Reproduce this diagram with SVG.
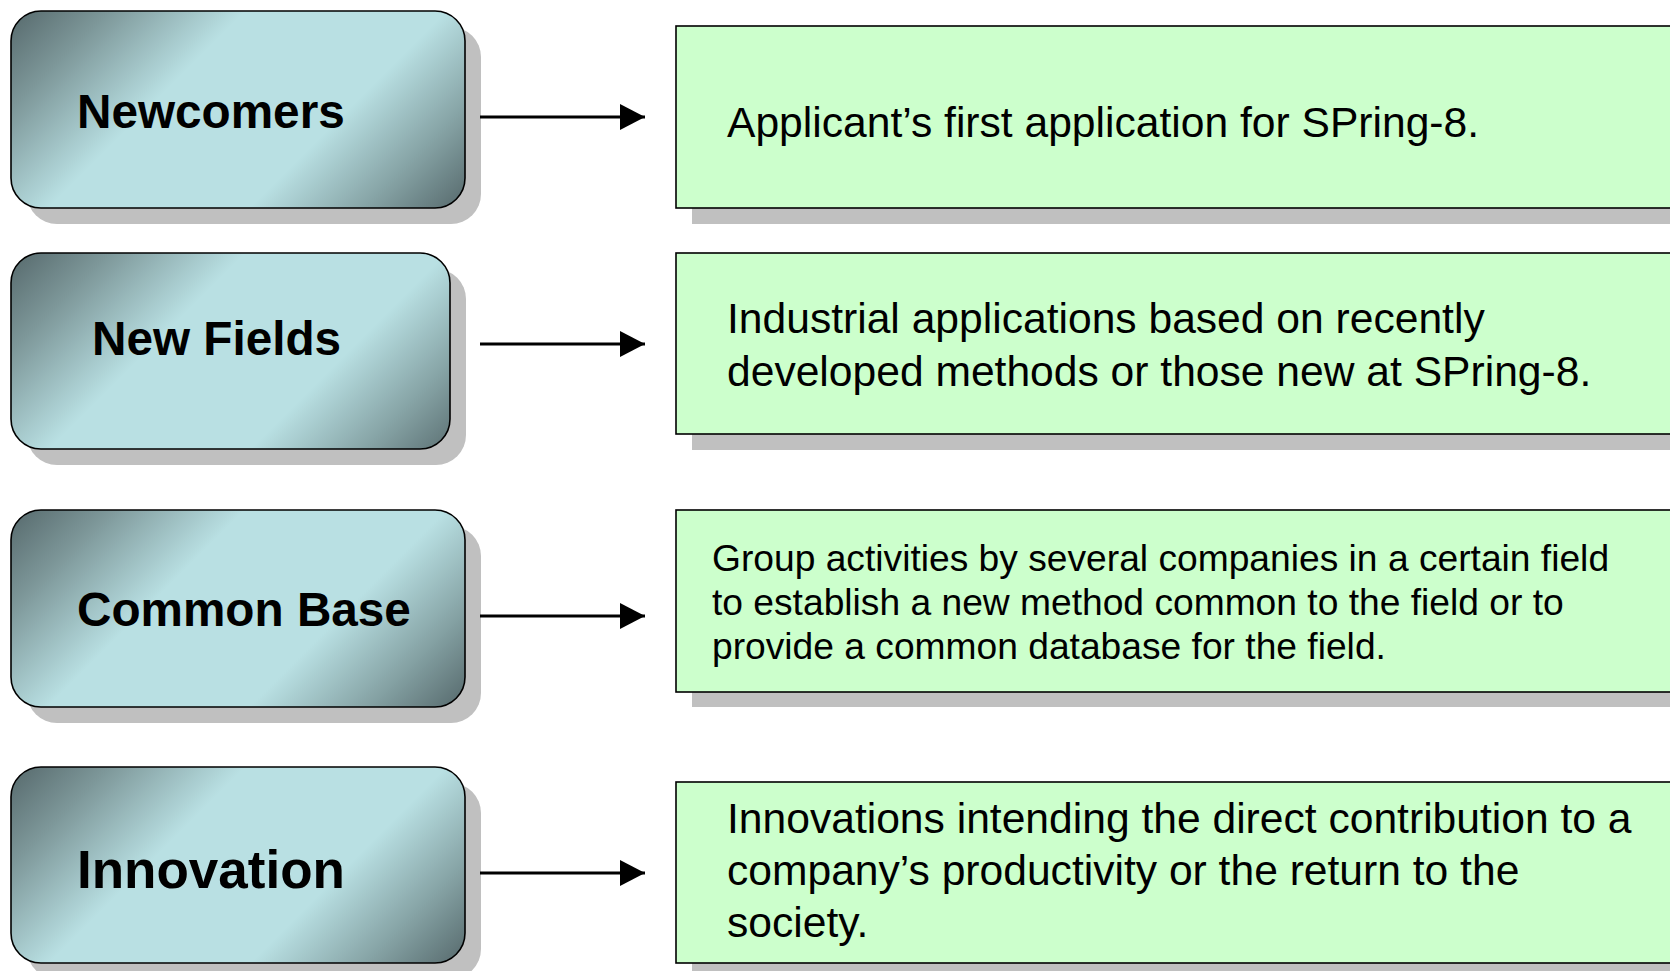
<svg xmlns="http://www.w3.org/2000/svg" width="1670" height="971" viewBox="0 0 1670 971">
<style>
.cat{stroke:#000;stroke-width:1.6;fill:url(#grad)}
.sh{fill:#c0c0c0}
.desc{fill:#ccffcc;stroke:#000;stroke-width:1.6}
.lbl{font-family:"Liberation Sans",Arial,sans-serif;font-weight:bold;fill:#000}
.txt{font-family:"Liberation Sans",Arial,sans-serif;fill:#000}
.conn{stroke:#000;stroke-width:3;fill:none}
</style>
<defs>
<linearGradient id="grad" gradientUnits="userSpaceOnUse" x1="0" y1="0" x2="325" y2="325">
<stop offset="0" stop-color="#56696c"/>
<stop offset="0.15" stop-color="#7d9799"/>
<stop offset="0.36" stop-color="#b9e0e3"/>
<stop offset="0.67" stop-color="#b9e0e3"/>
<stop offset="0.85" stop-color="#85a2a4"/>
<stop offset="1" stop-color="#56696c"/>
</linearGradient>
<marker id="arr" markerUnits="userSpaceOnUse" markerWidth="26" markerHeight="28" refX="25" refY="13" orient="auto">
<path d="M0,0 L25,13 L0,26 Z" fill="#000"/>
</marker>
</defs>

<g id="newcomers" transform="translate(11,11)">
<rect class="sh" x="16" y="16" width="454" height="197" rx="30"/>
<rect class="cat" x="0" y="0" width="454" height="197" rx="30"/>
<text class="lbl" x="66" y="117" font-size="47.7">Newcomers</text>
</g>
<g id="newfields" transform="translate(11,253)">
<rect class="sh" x="16" y="16" width="439" height="196" rx="30"/>
<rect class="cat" x="0" y="0" width="439" height="196" rx="30"/>
<text class="lbl" x="81" y="102" font-size="47.7">New Fields</text>
</g>
<g id="commonbase" transform="translate(11,510)">
<rect class="sh" x="16" y="16" width="454" height="197" rx="30"/>
<rect class="cat" x="0" y="0" width="454" height="197" rx="30"/>
<text class="lbl" x="66" y="116" font-size="47.7">Common Base</text>
</g>
<g id="innovation" transform="translate(11,767)">
<rect class="sh" x="16" y="16" width="454" height="196" rx="30"/>
<rect class="cat" x="0" y="0" width="454" height="196" rx="30"/>
<text class="lbl" x="66" y="121" font-size="53">Innovation</text>
</g>

<g id="desc-newcomers">
<rect class="sh" x="692" y="42" width="1000" height="182"/>
<rect class="desc" x="676" y="26" width="1020" height="182"/>
<text class="txt" x="727" y="137" font-size="42.6">Applicant’s first application for SPring-8.</text>
</g>
<g id="desc-newfields">
<rect class="sh" x="692" y="269" width="1000" height="181"/>
<rect class="desc" x="676" y="253" width="1020" height="181"/>
<text class="txt" font-size="42.6"><tspan x="727" y="333">Industrial applications based on recently</tspan><tspan x="727" y="386">developed methods or those new at SPring-8.</tspan></text>
</g>
<g id="desc-commonbase">
<rect class="sh" x="692" y="526" width="1000" height="181"/>
<rect class="desc" x="676" y="510" width="1020" height="182"/>
<text class="txt" font-size="37.2"><tspan x="712" y="571">Group activities by several companies in a certain field</tspan><tspan x="712" y="615">to establish a new method common to the field or to</tspan><tspan x="712" y="659">provide a common database for the field.</tspan></text>
</g>
<g id="desc-innovation">
<rect class="sh" x="692" y="798" width="1000" height="181"/>
<rect class="desc" x="676" y="782" width="1020" height="181"/>
<text class="txt" font-size="42.6"><tspan x="727" y="833">Innovations intending the direct contribution to a</tspan><tspan x="727" y="885">company’s productivity or the return to the</tspan><tspan x="727" y="937">society.</tspan></text>
</g>

<g id="connectors">
<line class="conn" x1="480" y1="117" x2="645" y2="117" marker-end="url(#arr)"/>
<line class="conn" x1="480" y1="344" x2="645" y2="344" marker-end="url(#arr)"/>
<line class="conn" x1="480" y1="616" x2="645" y2="616" marker-end="url(#arr)"/>
<line class="conn" x1="480" y1="873" x2="645" y2="873" marker-end="url(#arr)"/>
</g>
</svg>
